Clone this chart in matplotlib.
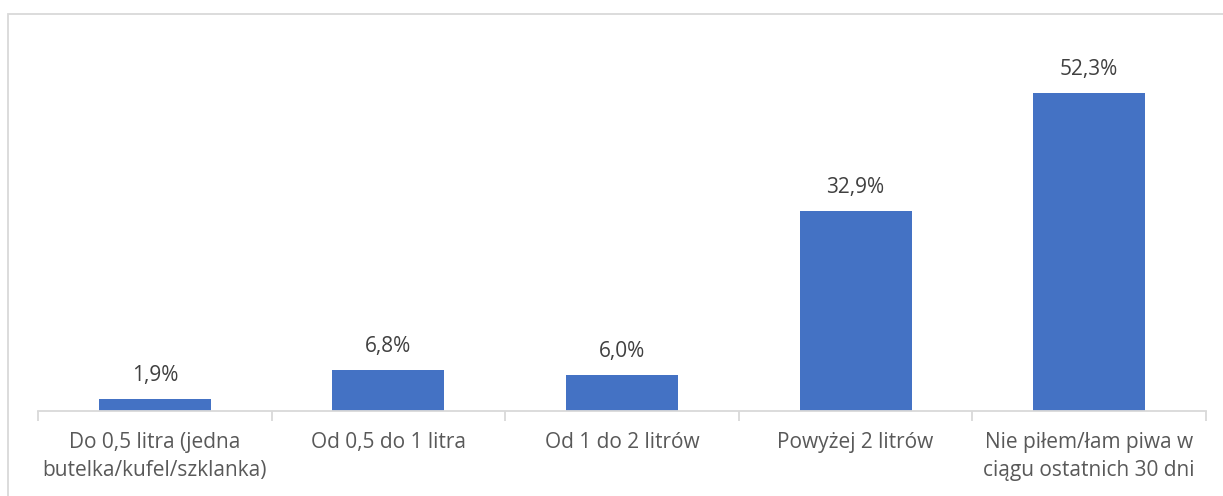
import matplotlib
matplotlib.use("Agg")
import matplotlib.pyplot as plt
from matplotlib.patches import Rectangle

categories = ["Do 0,5 litra (jedna\nbutelka/kufel/szklanka)", "Od 0,5 do 1 litra",
              "Od 1 do 2 litrów", "Powyżej 2 litrów",
              "Nie piłem/łam piwa w\nciągu ostatnich 30 dni"]
values = [1.9, 6.8, 6.0, 32.9, 52.3]
value_labels = ["1,9%", "6,8%", "6,0%", "32,9%", "52,3%"]

W, H = 1223, 496
fig = plt.figure(figsize=(W / 100, H / 100), dpi=100)
plt.rcParams['font.family'] = ['Open Sans', 'DejaVu Sans']

# chart border
fig.patches.append(Rectangle((8 / W, -0.1), 1.2, (H - 14) / H + 0.1, transform=fig.transFigure,
                             fill=False, edgecolor="#D9D9D9", linewidth=1.3))

ax = fig.add_axes([38 / W, (H - 411) / H, 1168 / W, 365 / H])
x = list(range(len(values)))
ax.bar(x, values, width=0.48, color="#4472C4", zorder=2)
ax.set_xlim(-0.5, len(values) - 0.5)
ax.set_ylim(0, 60)
for s in ["top", "right", "left"]:
    ax.spines[s].set_visible(False)
ax.spines["bottom"].set_color("#D9D9D9")
ax.spines["bottom"].set_linewidth(1.3)
ax.set_yticks([])
ax.set_xticks([i - 0.5 for i in range(len(values) + 1)], minor=False)
ax.set_xticklabels([])
ax.tick_params(axis="x", length=7, width=1.3, color="#D9D9D9")
for i, lab in enumerate(categories):
    ax.text(i, -3.5, lab, ha="center", va="top", fontsize=15, color="#595959",
            linespacing=1.45)
for i, (v, lab) in enumerate(zip(values, value_labels)):
    ax.annotate(lab, (i, v), xytext=(0, 13), textcoords="offset pixels",
                ha="center", va="bottom", fontsize=15, color="#404040")

fig.savefig("out.png", dpi=100)
